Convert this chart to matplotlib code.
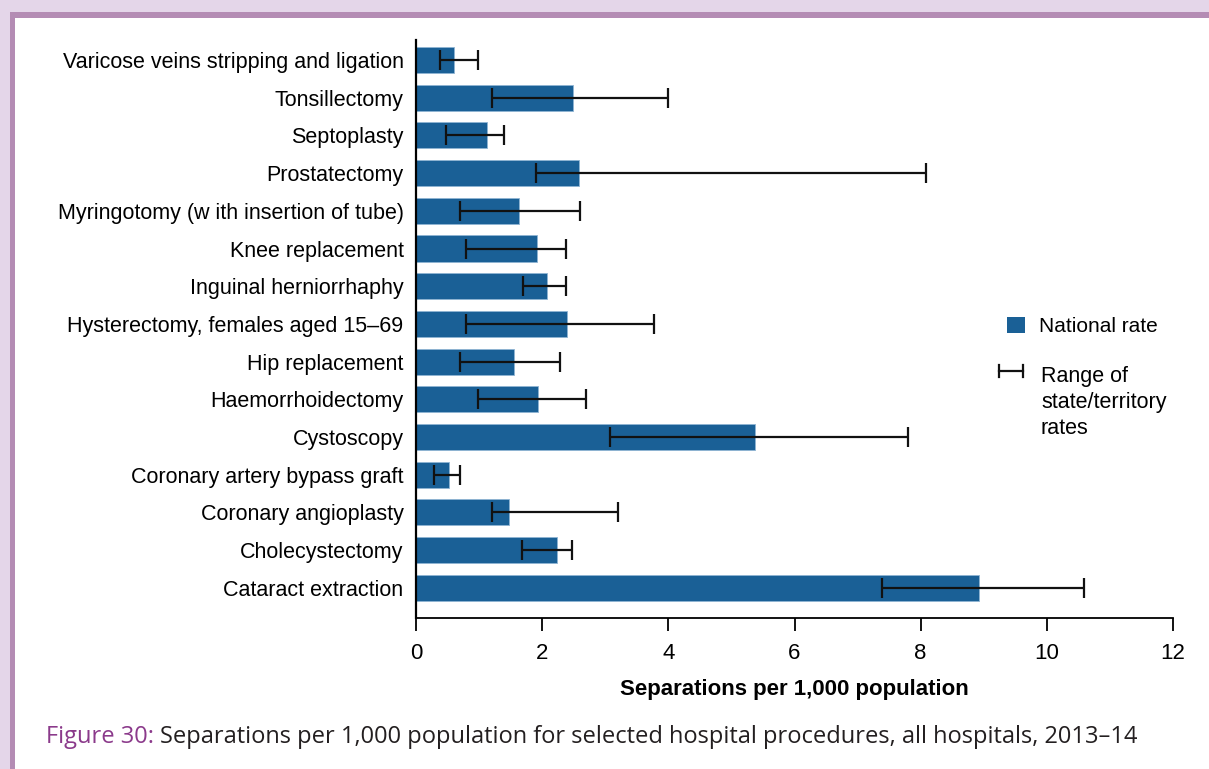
import matplotlib.pyplot as plt
from matplotlib.patches import Rectangle
from matplotlib.lines import Line2D

plt.rcParams['font.family'] = ['Liberation Sans', 'DejaVu Sans']

# Procedures, listed bottom to top
procedures = [
    'Cataract extraction',
    'Cholecystectomy',
    'Coronary angioplasty',
    'Coronary artery bypass graft',
    'Cystoscopy',
    'Haemorrhoidectomy',
    'Hip replacement',
    'Hysterectomy, females aged 15\u201369',
    'Inguinal herniorrhaphy',
    'Knee replacement',
    'Myringotomy (w ith insertion of tube)',
    'Prostatectomy',
    'Septoplasty',
    'Tonsillectomy',
    'Varicose veins stripping and ligation',
]
national = [8.93, 2.23, 1.47, 0.52, 5.38, 1.94, 1.56, 2.39, 2.07, 1.92, 1.63, 2.58, 1.12, 2.49, 0.61]
range_low = [7.39, 1.68, 1.20, 0.29, 3.07, 0.98, 0.70, 0.79, 1.69, 0.79, 0.70, 1.90, 0.47, 1.20, 0.38]
range_high = [10.59, 2.48, 3.20, 0.70, 7.80, 2.69, 2.29, 3.78, 2.37, 2.37, 2.60, 8.08, 1.39, 4.00, 0.98]

bar_color = '#1a6096'
lavender = '#e4d6e9'
border = '#b48cb4'

fig = plt.figure(figsize=(12.09, 7.69), dpi=100, facecolor=lavender)
W, H = 1209, 769

# Frame: purple border and white panel
fig.patches.append(Rectangle((10 / W, 0), 1, 1 - 12 / H, transform=fig.transFigure,
                             facecolor=border, edgecolor='none', zorder=-10))
fig.patches.append(Rectangle((15 / W, 0), 1, 1 - 17.5 / H, transform=fig.transFigure,
                             facecolor='white', edgecolor='none', zorder=-9))

ax = fig.add_axes([416 / W, 1 - 618 / H, (1173 - 416) / W, (618 - 40) / H])
ax.set_facecolor('none')
ax.set_zorder(1)

y = list(range(len(procedures)))
ax.barh(y, national, height=0.69, color=bar_color, edgecolor='#8fb4d3', linewidth=0.6, zorder=2)
xerr = [[n - lo for n, lo in zip(national, range_low)],
        [hi - n for n, hi in zip(national, range_high)]]
ax.errorbar(national, y, xerr=xerr, fmt='none', ecolor='#111111', elinewidth=1.6,
            capsize=7, capthick=1.6, zorder=3)

ax.set_xlim(0, 12)
ax.set_ylim(-0.8, 14.53)
ax.set_xticks(range(0, 13, 2))
ax.set_yticks(y)
ax.set_yticklabels(procedures)
ax.tick_params(axis='y', length=0, pad=9, labelsize=15.5)
ax.tick_params(axis='x', length=9, width=1.3, pad=9, labelsize=16, direction='out')
for s in ['top', 'right']:
    ax.spines[s].set_visible(False)
ax.spines['left'].set_linewidth(1.6)
ax.spines['bottom'].set_linewidth(1.3)

ax.set_xlabel('Separations per 1,000 population', fontsize=16, fontweight='bold', labelpad=11)

# Legend drawn by hand
fig.patches.append(Rectangle((1007 / W, 1 - 333 / H), 18 / W, 16 / H, transform=fig.transFigure,
                             facecolor=bar_color, edgecolor='none'))
fig.text(1039 / W, 1 - 327 / H, 'National rate', fontsize=15, va='center', ha='left')
fig.lines.append(Line2D([999 / W, 1023 / W], [1 - 371 / H, 1 - 371 / H], transform=fig.transFigure,
                        color='#111111', lw=1.6))
for xx in (999, 1023):
    fig.lines.append(Line2D([xx / W, xx / W], [1 - 365 / H, 1 - 377 / H], transform=fig.transFigure,
                            color='#111111', lw=1.6))
fig.text(1041 / W, 1 - 366 / H, 'Range of\nstate/territory\nrates', fontsize=15.5, va='top', ha='left',
         linespacing=1.3)

# Caption
cap_font = ['Open Sans', 'DejaVu Sans']
t1 = fig.text(46 / W, 1 - 737 / H, 'Figure 30:', fontsize=17, color='#8b3a8b', va='center',
              ha='left', family=cap_font)
fig.canvas.draw()
bb = t1.get_window_extent()
fig.text(bb.x1 / W + 6 / W, 1 - 737 / H,
         'Separations per 1,000 population for selected hospital procedures, all hospitals, 2013\u201314',
         fontsize=17, color='#231f20', va='center', ha='left', family=cap_font)

fig.savefig('out.png', dpi=100, facecolor=fig.get_facecolor())
